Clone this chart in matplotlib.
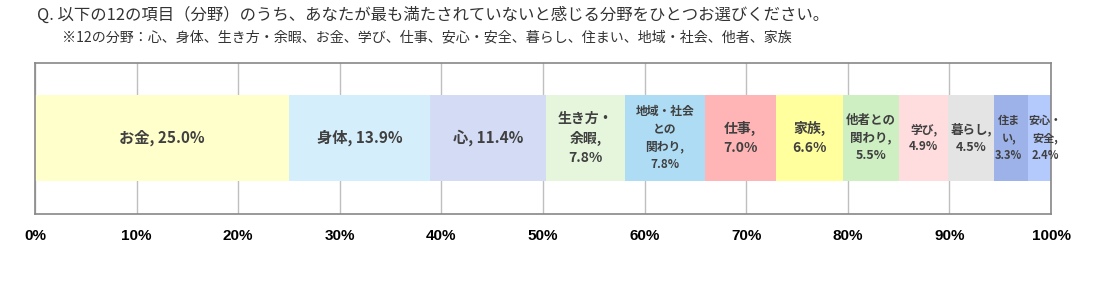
import matplotlib
matplotlib.use("Agg")
from matplotlib import pyplot as plt
import numpy as np

plt.rcParams['font.family'] = ['Noto Sans CJK JP', 'DejaVu Sans']

# data (percent)
categories = ['お金', '身体', '心', '生き方・余暇', '地域・社会との関わり', '仕事',
              '家族', '他者との関わり', '学び', '暮らし', '住まい', '安心・安全']
values = [25.0, 13.9, 11.4, 7.8, 7.8, 7.0, 6.6, 5.5, 4.9, 4.5, 3.3, 2.4]
labels = ['お金, 25.0%', '身体, 13.9%', '心, 11.4%', '生き方・\n余暇,\n7.8%',
          '地域・社会\nとの\n関わり,\n7.8%', '仕事,\n7.0%', '家族,\n6.6%',
          '他者との\n関わり,\n5.5%', '学び,\n4.9%', '暮らし,\n4.5%',
          '住ま\nい,\n3.3%', '安心・\n安全,\n2.4%']
colors = ['#FFFFCC', '#D5EEFB', '#D3DCF4', '#E5F6DD', '#AEDCF4', '#FFB5B5',
          '#FFFF9E', '#CDEFC2', '#FFDDDF', '#E4E4E4', '#9DB2E9', '#B4C9FC']
label_sizes = [11, 11, 11, 10, 8.5, 10, 10, 9, 8.5, 9, 8, 8]
# small nudges so the two narrow labels at the right end do not collide
label_shift = [0, 0, 0, 0, 0, 0, 0, 0, 0, 0, -0.2, 0.5]
xticks = np.arange(0, 101, 10)

title = 'Q. 以下の12の項目（分野）のうち、あなたが最も満たされていないと感じる分野をひとつお選びください。'
subtitle = '※12の分野：心、身体、生き方・余暇、お金、学び、仕事、安心・安全、暮らし、住まい、地域・社会、他者、家族'

fig = plt.figure(figsize=(10.97, 2.83), dpi=100)
ax = fig.add_axes([0.0319, 0.2438, 0.9262, 0.5332])

left = 0.0
for v, lab, c, fs, dx in zip(values, labels, colors, label_sizes, label_shift):
    ax.barh(0.503, v, left=left, height=0.57, color=c, edgecolor='none', zorder=2)
    ax.text(left + v / 2 + dx, 0.503, lab, ha='center', va='center', fontsize=fs,
            fontweight='bold', color='#404040', linespacing=1.45, zorder=3)
    left += v

ax.set_xlim(0, 100)
ax.set_ylim(0, 1)
ax.set_xticks(xticks)
ax.set_xticklabels([f'{t}%' for t in xticks], fontsize=11, fontweight='bold',
                   family=['Liberation Sans', 'DejaVu Sans'])
ax.tick_params(axis='x', length=0, pad=11)
ax.set_yticks([])
ax.grid(axis='x', color='#BFBFBF', linewidth=1, zorder=0)
ax.set_axisbelow(True)
for s in ax.spines.values():
    s.set_color('#888888')
    s.set_linewidth(1.2)

fig.text(0.0337, 0.945, title, fontsize=11.8, color='#333333', va='center')
fig.text(0.0565, 0.868, subtitle, fontsize=10.1, color='#333333', va='center')

fig.savefig('out.png', dpi=100)
